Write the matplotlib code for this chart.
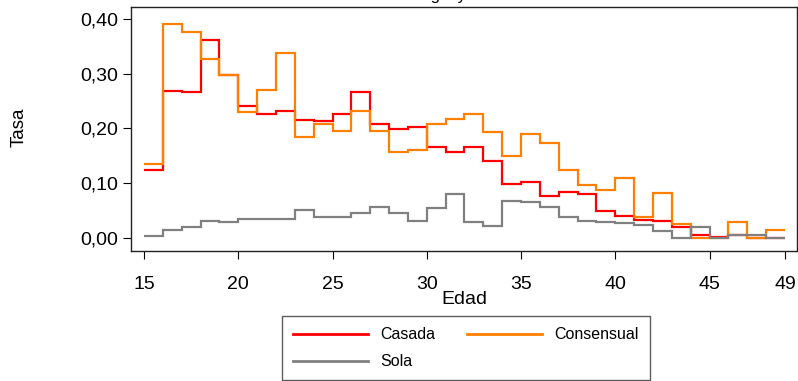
import matplotlib
matplotlib.use("Agg")
import matplotlib.pyplot as plt
from matplotlib.ticker import FuncFormatter

plt.rcParams['font.family'] = ['Liberation Sans', 'DejaVu Sans']

# age groups 15..48 (each step spans one year, last edge at 49)
edades = list(range(15, 50))
casada = [0.123, 0.268, 0.266, 0.361, 0.298, 0.240, 0.227, 0.231, 0.215, 0.213,
          0.226, 0.266, 0.208, 0.198, 0.203, 0.166, 0.157, 0.165, 0.141, 0.098,
          0.101, 0.077, 0.083, 0.080, 0.049, 0.040, 0.032, 0.030, 0.020, 0.005,
          0.001, 0.005, 0.000, 0.000]
consensual = [0.134, 0.390, 0.377, 0.327, 0.298, 0.229, 0.270, 0.337, 0.185, 0.208,
              0.196, 0.232, 0.196, 0.157, 0.160, 0.208, 0.218, 0.227, 0.193, 0.149,
              0.190, 0.174, 0.123, 0.096, 0.087, 0.110, 0.038, 0.081, 0.025, 0.000,
              0.000, 0.029, 0.000, 0.014]
sola = [0.003, 0.014, 0.019, 0.031, 0.029, 0.034, 0.035, 0.034, 0.050, 0.037,
        0.037, 0.045, 0.056, 0.045, 0.030, 0.055, 0.080, 0.028, 0.021, 0.067,
        0.065, 0.057, 0.037, 0.030, 0.028, 0.027, 0.024, 0.013, 0.000, 0.019,
        0.000, 0.005, 0.005, 0.000]
xticks = [15, 20, 25, 30, 35, 40, 45, 49]
yticks = [0.0, 0.1, 0.2, 0.3, 0.4]

W, H = 798, 381
fig = plt.figure(figsize=(W / 100, H / 100), dpi=100)
ax = fig.add_axes([131 / W, 1 - 250.7 / H, 666 / W, 244 / H])

h1 = ax.stairs(casada, edades, baseline=None, color='#ff0000', lw=1.6, label='Casada')
h2 = ax.stairs(consensual, edades, baseline=None, color='#ff8000', lw=1.6, label='Consensual')
h3 = ax.stairs(sola, edades, baseline=None, color='#808080', lw=1.6, label='Sola')

ax.set_xlim(14.31, 49.64)
ax.set_ylim(-0.0238, 0.4225)
ax.set_xticks(xticks)
ax.set_yticks(yticks)
ax.yaxis.set_major_formatter(FuncFormatter(lambda v, p: f"{v:.2f}".replace('.', ',')))
ax.tick_params(direction='out', length=5.5, width=0.8, labelsize=14, pad=3.5)
ax.tick_params(axis='x', pad=12.5)
for s in ax.spines.values():
    s.set_linewidth(1.0)
    s.set_color('#222222')

ax.set_xlabel('Edad', fontsize=14, labelpad=-1.5)
fig.text(28 / W, 1 - 127 / H, 'Tasa', rotation=90, ha='right', va='center', fontsize=13.5)

# title mostly cut off at the top of the image
fig.text(309 / W, 1 + 0.5 / H, 'Tasa en unión legal y consensual',
         ha='left', va='baseline', fontsize=12)

leg = fig.legend([h1, h3, h2], ['Casada', 'Sola', 'Consensual'], ncol=2,
                 loc='upper left', bbox_to_anchor=(282 / W, 1 - 316 / H),
                 borderaxespad=0, fontsize=11.5, handlelength=4.7, handletextpad=0.75,
                 columnspacing=2.0, labelspacing=0.75, borderpad=0.7,
                 fancybox=False, frameon=True, edgecolor='#333333')
leg.get_frame().set_linewidth(1.0)
for line in leg.get_lines():
    line.set_linewidth(2.0)

fig.savefig('out.png', dpi=100)
